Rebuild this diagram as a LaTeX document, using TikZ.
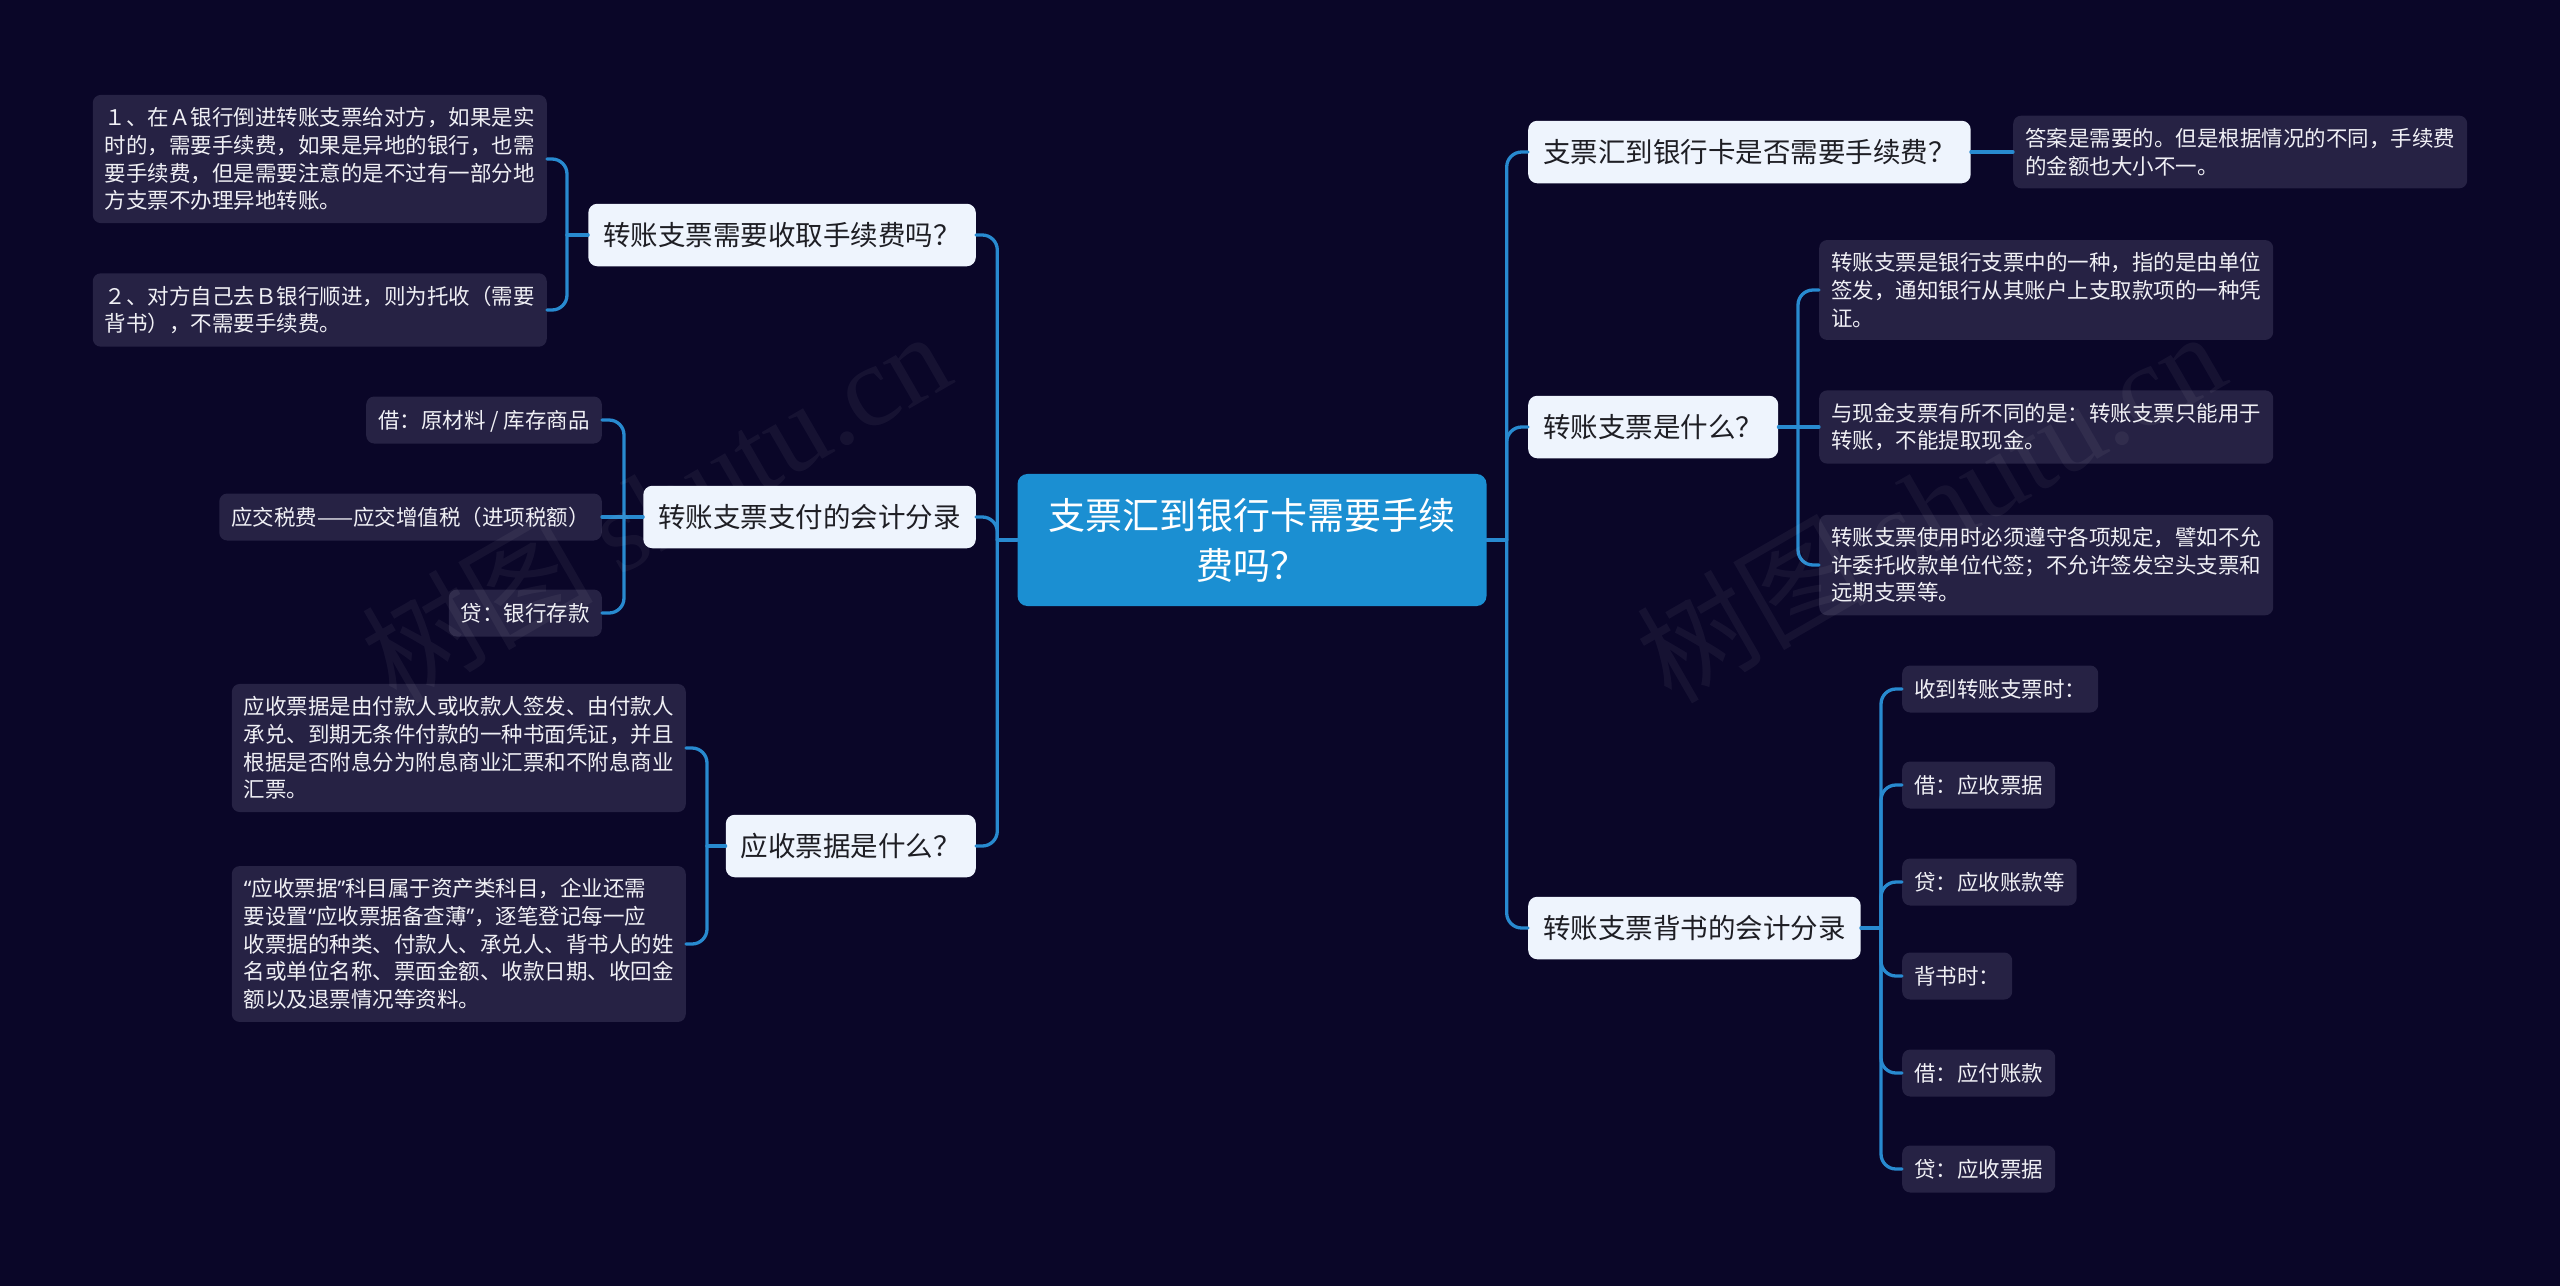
\documentclass[tikz,border=0pt]{standalone}
\usepackage{fontspec}
\setmainfont{Noto Sans CJK SC}
\newfontfamily\wmfont{Liberation Serif}
\newfontfamily\qfont{Noto Sans}
\newcommand{\myoq}{{\qfont “}}
\newcommand{\mycq}{{\qfont ”}}
\usetikzlibrary{calc}
\definecolor{bgc}{HTML}{0A0628}
\definecolor{leafc}{HTML}{262244}
\definecolor{leaftxt}{HTML}{F0F0F5}
\definecolor{topicc}{HTML}{EEF4FD}
\definecolor{topictxt}{HTML}{1E1E24}
\definecolor{rootc}{HTML}{1B8FD2}
\definecolor{linec}{HTML}{288AD0}
\tikzset{
  leaf/.style={fill=leafc, rounded corners=8pt, text=leaftxt,
    font=\fontsize{21.5}{27.7}\selectfont, align=left, inner xsep=12pt, inner ysep=12.5pt},
  leafone/.style={leaf, text height=19pt, text depth=3pt, inner ysep=12.5pt},
  topic/.style={fill=topicc, rounded corners=9pt, text=topictxt,
    font=\fontsize{27.5}{34}\selectfont, inner xsep=15pt, inner ysep=17.5pt,
    text height=24pt, text depth=3.5pt},
  root/.style={fill=rootc, rounded corners=10pt, text=white,
    font=\fontsize{37}{50}\selectfont, align=center, inner xsep=31pt, inner ysep=24pt},
  conn/.style={draw=linec, line width=3.3pt, rounded corners=15pt, line cap=round},
  wm/.style={text=white, text opacity=0.05, font=\fontsize{116}{116}\selectfont, inner sep=0pt}
}
\begin{document}
\begin{tikzpicture}[x=1pt,y=-1pt]
\useasboundingbox (0,0) rectangle (2560,1286);
\fill[bgc] (0,0) rectangle (2560,1286);

% root
\node[root] (C) at (1252,540) {支票汇到银行卡需要手续\\费吗？};

% topics
\node[topic, anchor=east] (L1) at (976,235) {转账支票需要收取手续费吗？};
\node[topic, anchor=east] (L2) at (976,517) {转账支票支付的会计分录};
\node[topic, anchor=east] (L3) at (976,846) {应收票据是什么？};
\node[topic, anchor=west] (R1) at (1528,152) {支票汇到银行卡是否需要手续费？};
\node[topic, anchor=west] (R2) at (1528,427) {转账支票是什么？};
\node[topic, anchor=west] (R3) at (1528,928) {转账支票背书的会计分录};

% left leaves
\node[leaf, anchor=east] (A1) at (547,159) {１、在Ａ银行倒进转账支票给对方，如果是实\\时的，需要手续费，如果是异地的银行，也需\\要手续费，但是需要注意的是不过有一部分地\\方支票不办理异地转账。};
\node[leaf, anchor=east] (A2) at (547,310) {２、对方自己去Ｂ银行顺进，则为托收（需要\\背书），不需要手续费。};
\node[leafone, anchor=east] (B1) at (602,420) {借：原材料 / 库存商品};
\node[leafone, anchor=east] (B2) at (602,517) {应交税费——应交增值税（进项税额）};
\node[leafone, anchor=east] (B3) at (602,613) {贷：银行存款};
\node[leaf, anchor=east] (D1) at (686,748) {应收票据是由付款人或收款人签发、由付款人\\承兑、到期无条件付款的一种书面凭证，并且\\根据是否附息分为附息商业汇票和不附息商业\\汇票。};
\node[leaf, anchor=east] (D2) at (686,944) {\myoq 应收票据\mycq 科目属于资产类科目，企业还需\\要设置\myoq 应收票据备查薄\mycq ，逐笔登记每一应\\收票据的种类、付款人、承兑人、背书人的姓\\名或单位名称、票面金额、收款日期、收回金\\额以及退票情况等资料。};

% right leaves
\node[leaf, anchor=west] (E1) at (2013,152) {答案是需要的。但是根据情况的不同，手续费\\的金额也大小不一。};
\node[leaf, anchor=west] (F1) at (1819,290) {转账支票是银行支票中的一种，指的是由单位\\签发，通知银行从其账户上支取款项的一种凭\\证。};
\node[leaf, anchor=west] (F2) at (1819,427) {与现金支票有所不同的是：转账支票只能用于\\转账，不能提取现金。};
\node[leaf, anchor=west] (F3) at (1819,565) {转账支票使用时必须遵守各项规定，譬如不允\\许委托收款单位代签；不允许签发空头支票和\\远期支票等。};
\node[leafone, anchor=west] (G1) at (1902,689) {收到转账支票时：};
\node[leafone, anchor=west] (G2) at (1902,785) {借：应收票据};
\node[leafone, anchor=west] (G3) at (1902,882) {贷：应收账款等};
\node[leafone, anchor=west] (G4) at (1902,976) {背书时：};
\node[leafone, anchor=west] (G5) at (1902,1073) {借：应付账款};
\node[leafone, anchor=west] (G6) at (1902,1169) {贷：应收票据};

% junction coordinates
\coordinate (jL) at ($(C.west)+(-20,0)$);
\coordinate (jR) at ($(C.east)+(20,0)$);
\coordinate (j1) at ($(A1.east |- L1.west)+(20,0)$);
\coordinate (j2) at ($(B1.east |- L2.west)+(22,0)$);
\coordinate (j3) at ($(D1.east |- L3.west)+(21,0)$);
\coordinate (jF) at ($(F1.west |- R2.east)+(-21,0)$);
\coordinate (jG) at ($(G1.west |- R3.east)+(-21,0)$);

% root to topics
\draw[conn] (C.west) -- (jL);
\draw[conn] (jL) -- (jL |- L1.east) -- (L1.east);
\draw[conn] (jL) -- (jL |- L2.east) -- (L2.east);
\draw[conn] (jL) -- (jL |- L3.east) -- (L3.east);
\draw[conn] (C.east) -- (jR);
\draw[conn] (jR) -- (jR |- R1.west) -- (R1.west);
\draw[conn] (jR) -- (jR |- R2.west) -- (R2.west);
\draw[conn] (jR) -- (jR |- R3.west) -- (R3.west);

% L1
\draw[conn] (L1.west) -- (j1);
\draw[conn] (j1) -- (j1 |- A1.east) -- (A1.east);
\draw[conn] (j1) -- (j1 |- A2.east) -- (A2.east);
% L2
\draw[conn] (L2.west) -- (B2.east);
\draw[conn] (j2) -- (j2 |- B1.east) -- (B1.east);
\draw[conn] (j2) -- (j2 |- B3.east) -- (B3.east);
% L3
\draw[conn] (L3.west) -- (j3);
\draw[conn] (j3) -- (j3 |- D1.east) -- (D1.east);
\draw[conn] (j3) -- (j3 |- D2.east) -- (D2.east);
% R1
\draw[conn] (R1.east) -- (E1.west);
% R2
\draw[conn] (R2.east) -- (F2.west);
\draw[conn] (jF) -- (jF |- F1.west) -- (F1.west);
\draw[conn] (jF) -- (jF |- F3.west) -- (F3.west);
% R3
\draw[conn] (R3.east) -- (jG);
\foreach \g in {G1,G2,G3,G4,G5,G6}{
  \draw[conn] (jG) -- (jG |- \g.west) -- (\g.west);
}

% watermarks
\node[wm, rotate=30] (wm1) at (655,505) {树图 {\wmfont shutu.cn}};
\node[wm, rotate=30] (wm2) at (1930,505) {树图 {\wmfont shutu.cn}};
\end{tikzpicture}
\end{document}
